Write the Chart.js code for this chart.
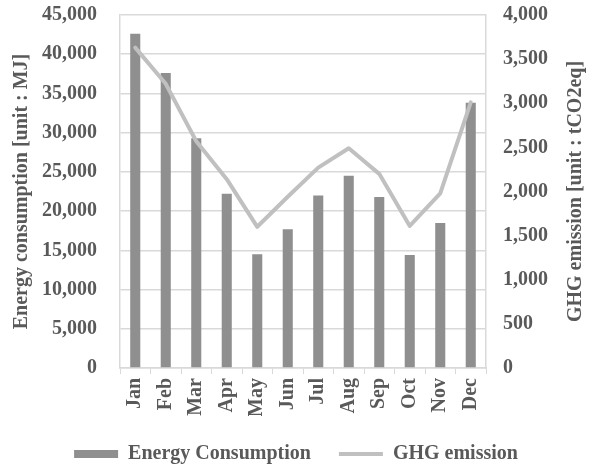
<!DOCTYPE html>
<html>
<head>
<meta charset="utf-8">
<script src="https://cdn.jsdelivr.net/npm/chart.js@4"></script>
<style>
  html, body { margin: 0; padding: 0; background: #fff; }
  #wrap { width: 592px; height: 467px; }
</style>
</head>
<body>
<div id="wrap"><canvas id="grafico" width="592" height="467"></canvas></div>
<script>
const meses = ["Jan", "Feb", "Mar", "Apr", "May", "Jun", "Jul", "Aug", "Sep", "Oct", "Nov", "Dec"];
const consumoEnergia = [42600, 37600, 29300, 22200, 14500, 17700, 22000, 24500, 21800, 14400, 18500, 33800];
const emisionGHG = [3630, 3220, 2570, 2140, 1600, 1940, 2270, 2490, 2200, 1610, 1980, 3010];

const fuente = "'Liberation Serif', 'Times New Roman', serif";
const gris = "#595959";
const rejilla = "#d9d9d9";
const tituloDerecho = "GHG emission [unit : tCO2eq]";

// Titulo del eje derecho, girado igual que el izquierdo (de abajo hacia arriba)
const tituloEjeDerecho = {
    id: "tituloEjeDerecho",
    afterDraw(chart) {
        const area = chart.chartArea;
        const c = chart.ctx;
        c.save();
        c.translate(576, (area.top + area.bottom) / 2);
        c.rotate(-Math.PI / 2);
        c.fillStyle = gris;
        c.font = "bold 20px " + fuente;
        c.textAlign = "center";
        c.textBaseline = "middle";
        c.fillText(tituloDerecho, 0, 0);
        c.restore();
    },
};

const ctx = document.getElementById("grafico").getContext("2d");
const chart = new Chart(ctx, {
    type: "bar",
    data: {
        labels: meses,
        datasets: [{
            type: "bar",
            label: "Energy Consumption",
            data: consumoEnergia,
            backgroundColor: "#8f8f8f",
            borderWidth: 0,
            barPercentage: 0.33,
            categoryPercentage: 1,
            pointStyle: "rect",
            yAxisID: "y",
            order: 1,
        }, {
            type: "line",
            label: "GHG emission",
            data: emisionGHG,
            borderColor: "#c0c0c0",
            backgroundColor: "#c0c0c0",
            borderWidth: 4,
            borderCapStyle: "round",
            borderJoinStyle: "round",
            tension: 0,
            pointRadius: 0,
            pointHoverRadius: 0,
            pointStyle: "line",
            fill: false,
            yAxisID: "y1",
            order: 0,
        }],
    },
    options: {
        responsive: false,
        animation: false,
        layout: { padding: { top: 2, bottom: -7, left: 0, right: 0 } },
        plugins: {
            legend: {
                position: "bottom",
                labels: {
                    usePointStyle: true,
                    pointStyleWidth: 44,
                    boxHeight: 8,
                    padding: 28,
                    color: gris,
                    font: { family: fuente, size: 20, weight: "bold" },
                    sort: (a, b) => a.datasetIndex - b.datasetIndex,
                },
            },
            tooltip: { enabled: false },
        },
        scales: {
            x: {
                grid: {
                    offset: true,
                    drawOnChartArea: false,
                    drawTicks: true,
                    tickLength: 6,
                    color: rejilla,
                },
                border: { color: rejilla, width: 1.5 },
                ticks: {
                    minRotation: 90,
                    maxRotation: 90,
                    padding: 4,
                    color: gris,
                    font: { family: fuente, size: 20, weight: "bold" },
                },
                afterFit: (s) => { s.height = 48; },
            },
            y: {
                position: "left",
                min: 0,
                max: 45000,
                grid: { color: rejilla, lineWidth: 1.5, drawTicks: true, tickLength: 20, tickColor: "rgba(0,0,0,0)" },
                border: { color: rejilla, width: 1.5 },
                ticks: {
                    stepSize: 5000,
                    padding: 3,
                    color: gris,
                    font: { family: fuente, size: 20, weight: "bold" },
                    callback: (v) => v.toLocaleString("en-US"),
                },
                title: {
                    display: true,
                    text: "Energy consumption [unit : MJ]",
                    color: gris,
                    padding: { top: 10, bottom: 0 },
                    font: { family: fuente, size: 20, weight: "bold" },
                },
                afterFit: (s) => { s.width = 120; },
            },
            y1: {
                position: "right",
                min: 0,
                max: 4000,
                grid: { drawOnChartArea: false, drawTicks: true, tickLength: 14, tickColor: "rgba(0,0,0,0)" },
                border: { color: rejilla, width: 1.5 },
                ticks: {
                    stepSize: 500,
                    padding: 3,
                    color: gris,
                    font: { family: fuente, size: 20, weight: "bold" },
                    callback: (v) => v.toLocaleString("en-US"),
                },
                afterFit: (s) => { s.width = 106; },
            },
        },
    },
    plugins: [tituloEjeDerecho],
});
</script>
</body>
</html>
